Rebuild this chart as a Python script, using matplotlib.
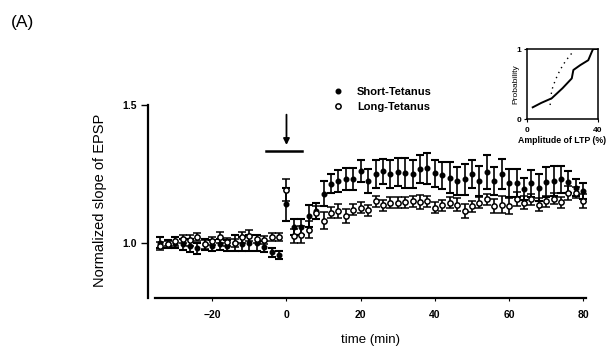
import numpy as np
import matplotlib
matplotlib.use('Agg')
import matplotlib.pyplot as plt
from matplotlib.lines import Line2D

plt.rcParams['font.family'] = ['Liberation Sans', 'DejaVu Sans']

# time points (min)
t_base = [-34, -32, -30, -28, -26, -24, -22, -20, -18, -16, -14, -12, -10, -8, -6, -4, -2]
t_post = [0, 2, 4, 6, 8, 10, 12, 14, 16, 18, 20, 22, 24, 26, 28, 30, 32, 34, 36, 38, 40,
          42, 44, 46, 48, 50, 52, 54, 56, 58, 60, 62, 64, 66, 68, 70, 72, 74, 76, 78, 80]

# Short-Tetanus (filled)
short_base = [1.0, 0.995, 1.0, 0.995, 0.99, 0.98, 0.995, 0.99, 0.995, 0.99, 1.0, 0.995,
              1.0, 1.0, 0.985, 0.965, 0.955]
short_base_err = [0.02, 0.015, 0.02, 0.02, 0.025, 0.02, 0.02, 0.02, 0.02, 0.02, 0.03, 0.025,
                  0.03, 0.03, 0.02, 0.015, 0.015]
short_post = [1.14, 1.058, 1.058, 1.097, 1.115, 1.178, 1.215, 1.224, 1.233, 1.23, 1.26,
              1.224, 1.249, 1.26, 1.249, 1.257, 1.253, 1.249, 1.267, 1.27, 1.252, 1.245,
              1.237, 1.224, 1.23, 1.249, 1.224, 1.257, 1.224, 1.249, 1.218, 1.218, 1.194,
              1.216, 1.2, 1.221, 1.224, 1.23, 1.222, 1.2, 1.188]
short_post_err = [0.06, 0.03, 0.03, 0.04, 0.03, 0.045, 0.035, 0.04, 0.04, 0.04, 0.04,
                  0.045, 0.05, 0.045, 0.05, 0.05, 0.055, 0.05, 0.05, 0.055, 0.05, 0.05,
                  0.055, 0.05, 0.055, 0.05, 0.055, 0.06, 0.05, 0.055, 0.05, 0.05, 0.04,
                  0.05, 0.05, 0.055, 0.055, 0.05, 0.04, 0.03, 0.03]

# Long-Tetanus (open)
long_base = [0.988, 0.997, 1.005, 1.015, 1.01, 1.02, 0.994, 1.006, 1.02, 1.004, 1.0, 1.02,
             1.025, 1.015, 1.01, 1.02, 1.02]
long_base_err = [0.015, 0.01, 0.015, 0.015, 0.02, 0.015, 0.015, 0.015, 0.02, 0.015, 0.015,
                 0.02, 0.02, 0.015, 0.015, 0.015, 0.015]
long_post = [1.19, 1.024, 1.03, 1.048, 1.11, 1.081, 1.109, 1.115, 1.097, 1.12, 1.127,
             1.119, 1.151, 1.136, 1.146, 1.146, 1.148, 1.151, 1.148, 1.151, 1.127, 1.136,
             1.146, 1.139, 1.115, 1.133, 1.146, 1.158, 1.133, 1.139, 1.133, 1.158, 1.146,
             1.158, 1.139, 1.151, 1.16, 1.148, 1.182, 1.182, 1.151]
long_post_err = [0.04, 0.025, 0.03, 0.03, 0.025, 0.03, 0.02, 0.025, 0.025, 0.02, 0.02,
                 0.02, 0.02, 0.02, 0.02, 0.02, 0.02, 0.02, 0.025, 0.02, 0.02, 0.02,
                 0.02, 0.025, 0.025, 0.02, 0.02, 0.02, 0.025, 0.03, 0.03, 0.025, 0.025,
                 0.02, 0.025, 0.02, 0.02, 0.02, 0.025, 0.02, 0.025]

# inset: cumulative probability vs LTP amplitude
cdf_short_x = [3.2, 8, 13.9, 20, 25.2, 26.1, 30, 34.5, 36.5, 37.2, 40]
cdf_short_y = [0.167, 0.23, 0.296, 0.44, 0.58, 0.70, 0.77, 0.84, 0.96, 1.0, 1.0]
cdf_long_x = [13, 13.9, 16, 18.6, 21, 23, 25.2]
cdf_long_y = [0.2, 0.41, 0.56, 0.7, 0.8, 0.87, 0.94]

fig = plt.figure(figsize=(6.15, 3.59), dpi=100)
ax = fig.add_axes([0.2411, 0.170, 0.7164, 0.5375])

t_all = t_base + t_post
eb = dict(capsize=2.6, elinewidth=1.2, capthick=1.5, ecolor='black', linestyle='none')
ax.errorbar(t_all, short_base + short_post, yerr=short_base_err + short_post_err,
            fmt='o', ms=3.3, mfc='black', mec='black', zorder=2, **eb)
ax.errorbar(t_all, long_base + long_post, yerr=long_base_err + long_post_err,
            fmt='o', ms=3.8, mfc='white', mec='black', mew=1.1, zorder=3, **eb)

# tetanus marker: arrow and bar
ax.plot([-5.5, 4.3], [1.334, 1.334], color='black', lw=1.8, clip_on=False)
ax.annotate('', xy=(0, 1.355), xytext=(0, 1.465), annotation_clip=False,
            arrowprops=dict(arrowstyle='-|>', color='black', lw=1.3,
                            mutation_scale=9, shrinkA=0, shrinkB=0))

ax.set_xlim(-37.25, 81.5)
ax.set_ylim(0.8, 1.5)
ax.set_xticks([-20, 0, 20, 40, 60, 80])
ax.set_yticks([1.0, 1.5])
ax.set_yticklabels(['1.0', '1.5'])
ax.tick_params(axis='y', length=5, width=1, pad=3, labelsize=7.5)
ax.tick_params(axis='x', length=2, width=0.8, pad=7, labelsize=7.5)
for lab in ax.get_xticklabels() + ax.get_yticklabels():
    lab.set_fontweight('bold')
for s in ['top', 'right']:
    ax.spines[s].set_visible(False)
ax.spines['left'].set_linewidth(1.6)
ax.spines['bottom'].set_linewidth(1.6)
ax.spines['bottom'].set_bounds(-35.5, 80.6)

handles = [Line2D([], [], marker='o', ls='none', ms=3.3, mfc='black', mec='black'),
           Line2D([], [], marker='o', ls='none', ms=3.8, mfc='white', mec='black', mew=1.1)]
fig.legend(handles, ['Short-Tetanus', 'Long-Tetanus'], loc='upper left',
           bbox_to_anchor=(0.5407, 0.757), frameon=False,
           prop={'size': 8, 'weight': 'bold'},
           handlelength=1.0, handletextpad=1.2, labelspacing=0.45, borderpad=0,
           borderaxespad=0)

fig.text(0.163, 0.443, 'Normalized slope of EPSP', rotation=90, ha='center',
         va='center', fontsize=10.5)
fig.text(0.602, 0.053, 'time (min)', ha='center', va='center', fontsize=9.5)
fig.text(0.018, 0.936, '(A)', ha='left', va='center', fontsize=12.5)

# inset
ins = fig.add_axes([0.857, 0.6685, 0.1154, 0.195])
ins.plot(cdf_short_x, cdf_short_y, color='black', lw=1.4)
ins.plot(cdf_long_x, cdf_long_y, color='black', lw=1.0, ls=(0, (1, 3)))
ins.set_xlim(0, 40)
ins.set_ylim(0, 1)
ins.set_xticks([0, 40])
ins.set_yticks([0, 1])
ins.set_yticklabels(['0', '1'])
ins.tick_params(length=2, width=0.8, labelsize=6)
ins.tick_params(axis='x', pad=4)
ins.tick_params(axis='y', pad=2)
for lab in ins.get_xticklabels() + ins.get_yticklabels():
    lab.set_fontweight('bold')
for s in ins.spines.values():
    s.set_linewidth(1.1)
ins.set_xlabel('Amplitude of LTP (%)', fontsize=6.3, labelpad=1, fontweight='bold')
ins.set_ylabel('Probability', fontsize=6, labelpad=-2)

fig.savefig('out.png', dpi=100)
